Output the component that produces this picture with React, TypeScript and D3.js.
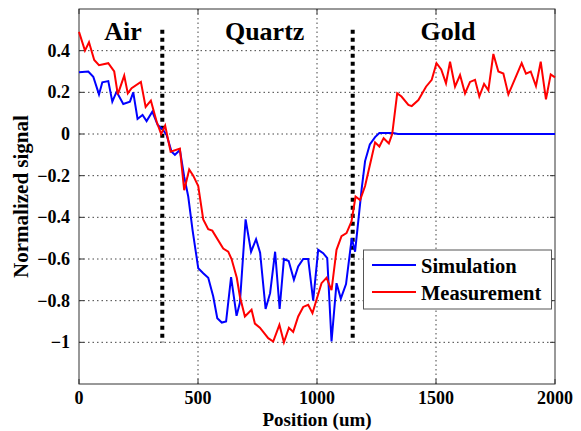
import React from 'react';
import * as d3 from 'd3';

const measPos = [0, 25, 42, 64, 84, 123, 148, 163, 190, 205, 221, 260, 280, 302, 326, 345, 362, 385, 424, 442, 463, 480, 501, 522, 543, 560, 606, 627, 641, 663, 676, 697, 725, 739, 760, 795, 816, 842, 861, 882, 900, 921, 942, 963, 981, 998, 1019, 1040, 1061, 1082, 1103, 1124, 1145, 1162, 1181, 1202, 1230, 1244, 1262, 1280, 1302, 1316, 1337, 1355, 1384, 1398, 1426, 1458, 1482, 1502, 1522, 1542, 1559, 1580, 1601, 1622, 1643, 1664, 1682, 1702, 1720, 1741, 1762, 1783, 1804, 1860, 1878, 1898, 1920, 1940, 1962, 1982, 2000];
const measVal = [0.49, 0.40, 0.44, 0.355, 0.33, 0.34, 0.30, 0.19, 0.28, 0.195, 0.22, 0.25, 0.13, 0.16, 0.06, 0.0, 0.04, -0.085, -0.07, -0.27, -0.17, -0.20, -0.25, -0.41, -0.457, -0.464, -0.55, -0.565, -0.60, -0.69, -0.78, -0.876, -0.844, -0.91, -0.93, -0.98, -0.996, -0.916, -1.0, -0.93, -0.95, -0.876, -0.83, -0.82, -0.86, -0.796, -0.716, -0.69, -0.75, -0.556, -0.49, -0.476, -0.42, -0.30, -0.317, -0.25, -0.11, -0.04, -0.06, -0.02, -0.045, 0.0, 0.195, 0.18, 0.14, 0.134, 0.163, 0.227, 0.26, 0.34, 0.31, 0.243, 0.347, 0.227, 0.283, 0.195, 0.25, 0.26, 0.18, 0.24, 0.21, 0.384, 0.30, 0.29, 0.19, 0.34, 0.29, 0.30, 0.23, 0.347, 0.166, 0.286, 0.272];

const simPos = [0, 39, 60, 84, 98, 123, 140, 158, 186, 214, 228, 246, 267, 284, 308, 331, 350, 368, 389, 403, 424, 442, 459, 477, 501, 522, 543, 564, 581, 600, 618, 639, 662, 676, 700, 723, 744, 761, 784, 803, 824, 843, 861, 881, 903, 921, 942, 963, 984, 1005, 1026, 1043, 1061, 1082, 1100, 1122, 1146, 1160, 1188, 1202, 1222, 1244, 1262, 1320, 1340, 2000];
const simVal = [0.296, 0.30, 0.275, 0.19, 0.248, 0.254, 0.155, 0.203, 0.144, 0.155, 0.20, 0.072, 0.091, 0.062, 0.107, 0.043, 0.024, -0.005, -0.085, -0.10, -0.077, -0.205, -0.30, -0.46, -0.644, -0.668, -0.69, -0.78, -0.884, -0.905, -0.90, -0.687, -0.873, -0.81, -0.41, -0.565, -0.505, -0.57, -0.84, -0.764, -0.565, -0.84, -0.60, -0.61, -0.70, -0.636, -0.60, -0.60, -0.80, -0.556, -0.572, -0.596, -0.996, -0.716, -0.79, -0.72, -0.50, -0.565, -0.26, -0.13, -0.05, -0.015, 0.005, 0.005, 0, 0];

const xTicks = [0, 500, 1000, 1500, 2000];
const yTicks = [-1, -0.8, -0.6, -0.4, -0.2, 0, 0.2, 0.4];
const boundaries = [350, 1150];
const regions = [
  { name: 'Air', pos: 185 },
  { name: 'Quartz', pos: 780 },
  { name: 'Gold', pos: 1550 },
];

const W = 581;
const H = 431;
const margin = { left: 79, right: 26, top: 9, bottom: 47 };

export default function App() {
  const x = d3.scaleLinear().domain([0, 2000]).range([margin.left, W - margin.right]);
  const y = d3.scaleLinear().domain([-1.2, 0.6]).range([H - margin.bottom, margin.top]);
  const x0 = x.range()[0], x1 = x.range()[1];
  const yb = y.range()[0], yt = y.range()[1];

  const line = d3.line<[number, number]>().x(d => x(d[0])).y(d => y(d[1]));
  const meas = measPos.map((p, i) => [p, measVal[i]] as [number, number]);
  const sim = simPos.map((p, i) => [p, simVal[i]] as [number, number]);

  const font = '"Liberation Serif", "Times New Roman", serif';
  const fmt = (v: number) => (v === 0 ? '0' : d3.format('')(+v.toFixed(1)));

  return (
    <svg width={W} height={H} style={{ position: 'absolute', left: 0, top: 0, background: '#fff' }} fontFamily={font} fontWeight="bold">
      <rect x={0} y={0} width={W} height={H} fill="#fff" />
      {/* grid */}
      {xTicks.slice(1, -1).map(t => (
        <line key={'gx' + t} x1={x(t)} x2={x(t)} y1={yb} y2={yt} stroke="#444" strokeWidth={1} strokeDasharray="1.5,3" />
      ))}
      {yTicks.map(t => (
        <line key={'gy' + t} x1={x0} x2={x1} y1={y(t)} y2={y(t)} stroke="#444" strokeWidth={1} strokeDasharray="1.5,3" />
      ))}
      {/* box and ticks */}
      <rect x={x0} y={yt} width={x1 - x0} height={yb - yt} fill="none" stroke="#333" strokeWidth={1} />
      {xTicks.map(t => (
        <g key={'tx' + t}>
          <line x1={x(t)} x2={x(t)} y1={yb} y2={yb - 5} stroke="#333" />
          <line x1={x(t)} x2={x(t)} y1={yt} y2={yt + 5} stroke="#333" />
          <text x={x(t)} y={yb + 20} textAnchor="middle" fontSize={18}>{t}</text>
        </g>
      ))}
      {yTicks.map(t => (
        <g key={'ty' + t}>
          <line x1={x0} x2={x0 + 5} y1={y(t)} y2={y(t)} stroke="#333" />
          <line x1={x1} x2={x1 - 5} y1={y(t)} y2={y(t)} stroke="#333" />
          <text x={x0 - 9} y={y(t) + 6} textAnchor="end" fontSize={18}>{fmt(t)}</text>
        </g>
      ))}
      {/* region boundaries */}
      {boundaries.map(b => (
        <line key={'b' + b} x1={x(b)} x2={x(b)} y1={y(0.5)} y2={y(-1)} stroke="#000" strokeWidth={4} strokeDasharray="4,4" />
      ))}
      {regions.map(r => (
        <text key={r.name} x={x(r.pos)} y={40} textAnchor="middle" fontSize={26}>{r.name}</text>
      ))}
      {/* series */}
      <path d={line(sim) || ''} fill="none" stroke="#0000ff" strokeWidth={2} />
      <path d={line(meas) || ''} fill="none" stroke="#ff0000" strokeWidth={2} />
      {/* legend */}
      <rect x={363.5} y={250} width={188} height={59} fill="#fff" stroke="#555" strokeWidth={1} />
      <line x1={372} x2={416} y1={265} y2={265} stroke="#0000ff" strokeWidth={2} />
      <text x={421} y={273} fontSize={20.5}>Simulation</text>
      <line x1={372} x2={416} y1={292} y2={292} stroke="#ff0000" strokeWidth={2} />
      <text x={421} y={300} fontSize={20.5}>Measurement</text>
      {/* axis labels */}
      <text x={(x0 + x1) / 2} y={426} textAnchor="middle" fontSize={19}>Position (um)</text>
      <text transform={`translate(28,${(yt + yb) / 2}) rotate(-90)`} textAnchor="middle" fontSize={21}>Normalized signal</text>
    </svg>
  );
}
